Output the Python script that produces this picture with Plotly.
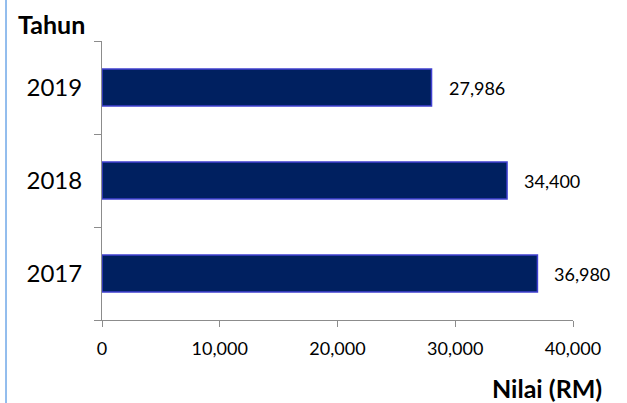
import plotly.graph_objects as go

tahun = ['2017', '2018', '2019']
nilai = [36980, 34400, 27986]
x_ticks = [0, 10000, 20000, 30000, 40000]

font_name = 'Lato, Liberation Sans, sans-serif'

fig = go.Figure(go.Bar(
    x=nilai, y=tahun, orientation='h',
    marker=dict(color='#002060', line=dict(color='#4040d0', width=1.5)),
    hoverinfo='x+y'
))

# value labels to the right of each bar (y given as category index)
for i, v in enumerate(nilai):
    fig.add_annotation(x=v, y=i, text=f'{v:,}', showarrow=False,
                       xanchor='left', xshift=15, font=dict(size=18, color='#000'))

fig.add_annotation(text='<b>Tahun</b>', xref='paper', yref='paper',
                   x=-0.183, y=1.0, yshift=17, xanchor='left', yanchor='middle',
                   showarrow=False, font=dict(size=25, color='#000'))
fig.add_annotation(text='<b>Nilai (RM)</b>', xref='paper', yref='paper',
                   x=1.066, y=0, yshift=-68, xanchor='right', yanchor='middle',
                   showarrow=False, font=dict(size=25, color='#000'))

# light blue border line on the left
fig.add_shape(type='line', xref='paper', yref='paper',
              x0=-0.2038, x1=-0.2038, y0=1.2, y1=-0.3,
              line=dict(color='#6fa8e8', width=1.5))

fig.update_layout(
    width=627, height=403,
    margin=dict(l=102, r=54, t=41, b=83),
    paper_bgcolor='white', plot_bgcolor='white',
    font=dict(family=font_name, color='#000'),
    bargap=0.6, showlegend=False,
    xaxis=dict(range=[0, 40000], tickvals=x_ticks, tickformat=',',
               showgrid=False, zeroline=False, showline=True,
               linecolor='#8c8c8c', linewidth=1, ticks='outside',
               ticklen=6, tickcolor='#8c8c8c', tickfont=dict(size=18),
               ticklabelstandoff=6, automargin=False),
    yaxis=dict(type='category', range=[-0.5, 2.5],
               showgrid=False, zeroline=False, showline=True,
               linecolor='#8c8c8c', linewidth=1, ticks='outside',
               tickson='boundaries', ticklen=7, tickcolor='#8c8c8c',
               tickfont=dict(size=24), ticklabelstandoff=14, automargin=False),
)

fig.write_html('out.html', config={'displayModeBar': False},
               post_script="document.body.style.margin='0';")
